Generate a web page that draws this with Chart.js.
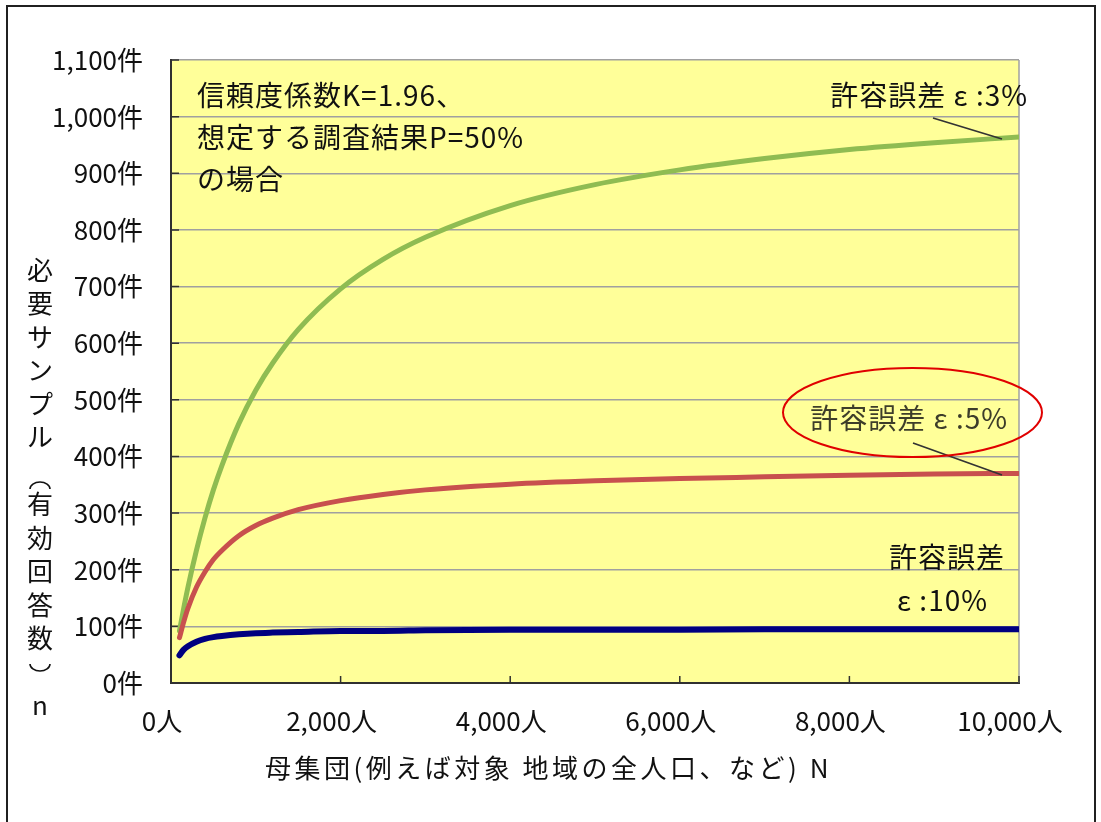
<!DOCTYPE html>
<html lang="ja">
<head>
<meta charset="utf-8">
<title>母集団と必要サンプル数</title>
<script src="https://cdn.jsdelivr.net/npm/chart.js@4.4.1/dist/chart.umd.min.js"></script>
<style>
  html, body { margin: 0; padding: 0; background: #ffffff; }
  #wrap { width: 1101px; height: 822px; }
</style>
</head>
<body>
<div id="wrap"><canvas id="c" width="1101" height="822"></canvas></div>
<script>
// 母集団の大きさ N（人）
const populations = [100, 150, 200, 300, 400, 500, 600, 800, 1000, 1200, 1500, 2000, 2500, 3000, 4000, 5000, 6000, 7000, 8000, 9000, 10000];
// 必要サンプル数 n（件）: 許容誤差 3%
const samples3 = [92, 132, 169, 234, 291, 341, 384, 458, 517, 565, 624, 696, 748, 787, 843, 880, 906, 926, 942, 954, 964];
// 許容誤差 5%
const samples5 = [80, 108, 132, 169, 196, 218, 234, 260, 278, 291, 306, 322, 333, 341, 351, 357, 361, 364, 367, 369, 370];
// 許容誤差 10%
const samples10 = [49, 59, 65, 73, 78, 81, 83, 86, 88, 89, 90, 92, 92, 93, 94, 94, 94, 95, 95, 95, 95];

const yTicks = [0, 100, 200, 300, 400, 500, 600, 700, 800, 900, 1000, 1100];
const xTicks = [0, 2000, 4000, 6000, 8000, 10000];

const FONT = "'Noto Sans CJK JP', 'Noto Sans', sans-serif";
const fmt = v => v.toLocaleString('en-US');

const series = [
  { label: '許容誤差ε:10%', values: samples10, color: '#000080', width: 6 },
  { label: '許容誤差ε:5%',  values: samples5,  color: '#C8504E', width: 5 },
  { label: '許容誤差ε:3%',  values: samples3,  color: '#8FBC52', width: 5 }
];

const datasets = series.map(s => ({
  label: s.label,
  data: populations.map((n, i) => ({ x: n, y: s.values[i] })),
  borderColor: s.color,
  borderWidth: s.width,
  pointRadius: 0,
  cubicInterpolationMode: 'monotone',
  borderCapStyle: 'round',
  fill: false
}));

// 縦書きの括弧（上向き・下向きの弧）
function drawVerticalParen(ctx, cx, cy, opening) {
  ctx.save();
  ctx.strokeStyle = '#111111';
  ctx.lineWidth = 1.6;
  ctx.beginPath();
  if (opening) {
    ctx.ellipse(cx, cy + 6, 10, 7, 0, Math.PI, 2 * Math.PI);
  } else {
    ctx.ellipse(cx, cy - 6, 10, 7, 0, 0, Math.PI);
  }
  ctx.stroke();
  ctx.restore();
}

// 枠・背景・注記・軸タイトル
const decor = {
  id: 'decor',
  beforeDraw(chart) {
    const { ctx, chartArea: a } = chart;
    ctx.save();
    ctx.fillStyle = '#ffffff';
    ctx.fillRect(0, 0, chart.width, chart.height);
    ctx.fillStyle = '#FFFF99';
    ctx.fillRect(a.left, a.top, a.right - a.left, a.bottom - a.top);
    ctx.restore();
  },
  beforeDatasetsDraw(chart) {
    const { ctx, chartArea: a, scales } = chart;
    ctx.save();
    // 右端の枠線
    ctx.strokeStyle = '#A0A0A0';
    ctx.lineWidth = 1.5;
    ctx.beginPath();
    ctx.moveTo(a.right, a.top);
    ctx.lineTo(a.right, a.bottom);
    ctx.stroke();
    // 内向きの目盛り
    ctx.strokeStyle = '#303030';
    ctx.lineWidth = 1.5;
    ctx.beginPath();
    yTicks.forEach(v => {
      const y = scales.y.getPixelForValue(v);
      ctx.moveTo(a.left, y);
      ctx.lineTo(a.left + 8, y);
    });
    xTicks.forEach(v => {
      const x = scales.x.getPixelForValue(v);
      ctx.moveTo(x, a.bottom);
      ctx.lineTo(x, a.bottom - 7);
    });
    ctx.stroke();
    ctx.restore();
  },
  afterDraw(chart) {
    const { ctx } = chart;
    ctx.save();
    // 外枠
    ctx.strokeStyle = '#202020';
    ctx.lineWidth = 2;
    ctx.strokeRect(7, 6, 1088, 840);

    ctx.fillStyle = '#111111';
    ctx.textBaseline = 'middle';

    // 条件の注記
    ctx.font = `28px ${FONT}`;
    ctx.textAlign = 'left';
    ctx.letterSpacing = '1px';
    ctx.fillText('信頼度係数K=1.96、', 197, 95);
    ctx.fillText('想定する調査結果P=50%', 197, 137);
    ctx.fillText('の場合', 197, 179);

    // 系列ラベル
    ctx.textAlign = 'right';
    ctx.fillText('許容誤差 ε :3%', 1028, 95);
    ctx.fillStyle = '#3d3d2a';
    ctx.fillText('許容誤差 ε :5%', 1008, 418);
    ctx.fillStyle = '#111111';
    ctx.fillText('許容誤差', 1005, 557);
    ctx.fillText('ε :10%', 988, 600);
    ctx.letterSpacing = '0px';

    // 引き出し線
    ctx.strokeStyle = '#333333';
    ctx.lineWidth = 1.8;
    ctx.beginPath();
    ctx.moveTo(933, 118); ctx.lineTo(1002, 139);
    ctx.moveTo(913, 443); ctx.lineTo(1002, 475);
    ctx.stroke();

    // 5% ラベルの強調
    ctx.strokeStyle = '#E00000';
    ctx.lineWidth = 2;
    ctx.beginPath();
    ctx.ellipse(912.5, 412.5, 129.5, 44.5, 0, 0, Math.PI * 2);
    ctx.stroke();

    // X 軸タイトル
    ctx.fillStyle = '#111111';
    ctx.font = `26px ${FONT}`;
    ctx.textAlign = 'left';
    ctx.letterSpacing = '3.5px';
    ctx.fillText('母集団(例えば対象 地域の全人口、など) N', 265, 768);
    ctx.letterSpacing = '0px';

    // Y 軸タイトル（縦書き）
    const vchars = ['必', '要', 'サ', 'ン', 'プ', 'ル', '(', '有', '効', '回', '答', '数', ')', 'n'];
    ctx.textAlign = 'center';
    vchars.forEach((ch, i) => {
      const y = 270 + i * 33.5;
      if (ch === '(') {
        drawVerticalParen(ctx, 40, y + 12, true);
      } else if (ch === ')') {
        drawVerticalParen(ctx, 40, y - 2, false);
      } else {
        ctx.fillText(ch, 40, y);
      }
    });
    ctx.restore();
  }
};

new Chart(document.getElementById('c'), {
  type: 'line',
  data: { datasets },
  options: {
    responsive: false,
    animation: false,
    devicePixelRatio: 1,
    layout: { padding: { left: 0, top: 60, right: 82, bottom: 0 } },
    plugins: {
      legend: { display: false },
      tooltip: { enabled: false },
      title: { display: false }
    },
    scales: {
      x: {
        type: 'linear',
        min: 0,
        max: 10000,
        afterFit(scale) { scale.height = 139; },
        afterBuildTicks(scale) { scale.ticks = xTicks.map(v => ({ value: v })); },
        grid: { display: false, drawTicks: false },
        border: { display: true, color: '#303030', width: 2 },
        ticks: {
          padding: 23,
          labelOffset: -9,
          color: '#111111',
          font: { family: FONT, size: 26 },
          maxRotation: 0,
          autoSkip: false,
          callback: v => fmt(v) + '人'
        }
      },
      y: {
        min: 0,
        max: 1100,
        afterFit(scale) { scale.width = 171; },
        afterBuildTicks(scale) { scale.ticks = yTicks.map(v => ({ value: v })); },
        grid: { color: '#A0A0A0', lineWidth: 1.5, drawTicks: false },
        border: { display: true, color: '#303030', width: 2 },
        ticks: {
          padding: 28,
          color: '#111111',
          font: { family: FONT, size: 26 },
          autoSkip: false,
          callback: v => fmt(v) + '件'
        }
      }
    }
  },
  plugins: [decor]
});
</script>
</body>
</html>
